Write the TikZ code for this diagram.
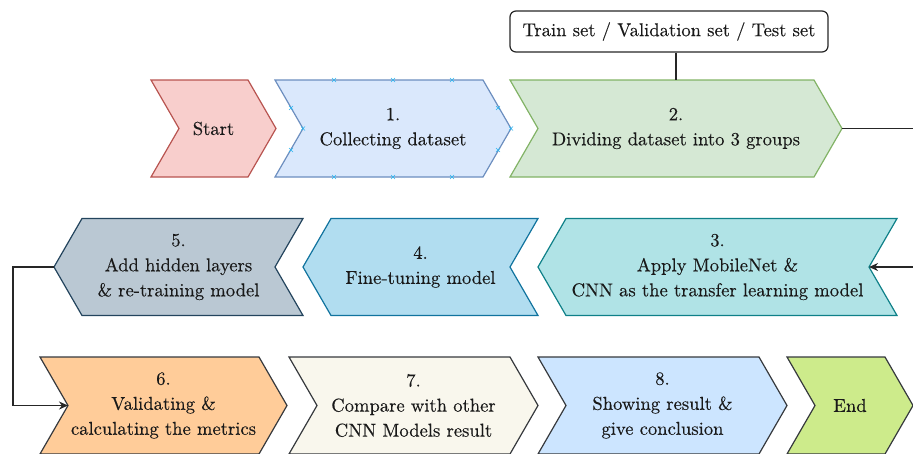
\documentclass[tikz,border=0pt]{standalone}
\usepackage{fontspec}
\newfontfamily\txtface{lmroman10-regular}[Extension=.otf, FakeBold=0.25]
\usetikzlibrary{arrows.meta}

\definecolor{startfill}{HTML}{F8CECC}\definecolor{startline}{HTML}{B85450}
\definecolor{bluefill}{HTML}{DAE8FC}\definecolor{blueline}{HTML}{6C8EBF}
\definecolor{greenfill}{HTML}{D5E8D4}\definecolor{greenline}{HTML}{82B366}
\definecolor{tealfill}{HTML}{B0E3E6}\definecolor{tealline}{HTML}{0E8088}
\definecolor{skyfill}{HTML}{B1DDF0}\definecolor{skyline}{HTML}{10739E}
\definecolor{slatefill}{HTML}{BAC8D3}\definecolor{slateline}{HTML}{23445D}
\definecolor{orangefill}{HTML}{FFCC99}\definecolor{greyline}{HTML}{36393D}
\definecolor{creamfill}{HTML}{F9F7ED}
\definecolor{lightbluefill}{HTML}{CCE5FF}
\definecolor{limefill}{HTML}{CDEB8B}
\definecolor{handle}{HTML}{29B6F2}

\tikzset{
  chev/.style={line width=1.2pt, line join=miter},
  txt/.style={align=center, inner sep=0pt, text=black!90,
    font=\txtface\fontsize{18.6}{25}\selectfont},
  conn/.style={line width=1.4pt, draw=black!85},
  arr/.style={conn, -{Stealth[length=9pt,width=8pt]}},
  lbl/.style={draw=black!85, line width=1.2pt, rounded corners=6pt,
    minimum width=318pt, minimum height=41pt, inner sep=0pt,
    font=\txtface\fontsize{18.6}{25}\selectfont, text=black!90},
  pt/.style={handle, line width=0.6pt}
}

% right-pointing chevron: name, left x, tip x, centre y, style, text
\newcommand\chevR[6]{%
  \draw[chev,#5] (#2,#4-48.5) -- (#3-28,#4-48.5) -- (#3,#4) -- (#3-28,#4+48.5)
    -- (#2,#4+48.5) -- (#2+28,#4) -- cycle;
  \node[txt] (#1) at ({(#2+#3)/2},#4) {#6};
  \coordinate (#1-tip) at (#3,#4);
  \coordinate (#1-notch) at (#2+28,#4);
  \coordinate (#1-top) at ({(#2+#3)/2},#4-48.5);
}
% left-pointing chevron: name, tip x, right x, centre y, style, text
\newcommand\chevL[6]{%
  \draw[chev,#5] (#2+28,#4-48.5) -- (#3,#4-48.5) -- (#3-28,#4) -- (#3,#4+48.5)
    -- (#2+28,#4+48.5) -- (#2,#4) -- cycle;
  \node[txt] (#1) at ({(#2+#3)/2},#4) {#6};
  \coordinate (#1-tip) at (#2,#4);
  \coordinate (#1-notch) at (#3-28,#4);
}
% small connection handle
\newcommand\handlemark[2]{%
  \draw[pt] (#1-2,#2-2) -- (#1+2,#2+2) (#1-2,#2+2) -- (#1+2,#2-2);
}

\begin{document}
\begin{tikzpicture}[x=1pt, y=-1pt]
\useasboundingbox (0,0) rectangle (913,453);

% first row
\chevR{start}{151}{276}{128.5}{fill=startfill, draw=startline}{Start}
\chevR{b1}{275}{511}{128.5}{fill=bluefill, draw=blueline}{1.\\Collecting dataset}
\chevR{b2}{510}{842}{128.5}{fill=greenfill, draw=greenline}{2.\\Dividing dataset into 3 groups}

% handles on step 1
\foreach \hx in {334,393,452}{\handlemark{\hx}{80}\handlemark{\hx}{177}}
\handlemark{291}{108}\handlemark{291}{150}\handlemark{303}{128.5}
\handlemark{498}{108}\handlemark{498}{150}\handlemark{511}{128.5}

% second row
\chevL{b3}{538}{897}{267}{fill=tealfill, draw=tealline}{3.\\Apply MobileNet \&\\CNN as the transfer learning model}
\chevL{b4}{303}{538}{267}{fill=skyfill, draw=skyline}{4.\\Fine-tuning model}
\chevL{b5}{54}{303}{267}{fill=slatefill, draw=slateline}{5.\\Add hidden layers\\\& re-training model}

% third row
\chevR{b6}{40}{287}{405.5}{fill=orangefill, draw=greyline}{6.\\Validating \&\\calculating the metrics}
\chevR{b7}{289}{538}{405.5}{fill=creamfill, draw=greyline}{7.\\Compare with other\\CNN Models result}
\chevR{b8}{538}{787}{405.5}{fill=lightbluefill, draw=greyline}{8.\\Showing result \&\\give conclusion}
\chevR{end}{787}{913}{405.5}{fill=limefill, draw=greyline}{End}

% annotation of step 2
\node[lbl] (sets) at (669,31.5) {Train set / Validation set / Test set};
\draw[conn] (sets.south -| b2-top) -- (b2-top);

% connectors
\coordinate (outR) at (916,128.5);
\coordinate (inR) at (916,267);
\coordinate (lft) at (13,330);
\draw[conn] (b2-tip) -- (outR);
\draw[arr] (inR) -- (b3-notch);
\draw[arr] (b5-tip) -| (lft) |- (b6-notch);
\end{tikzpicture}
\end{document}
